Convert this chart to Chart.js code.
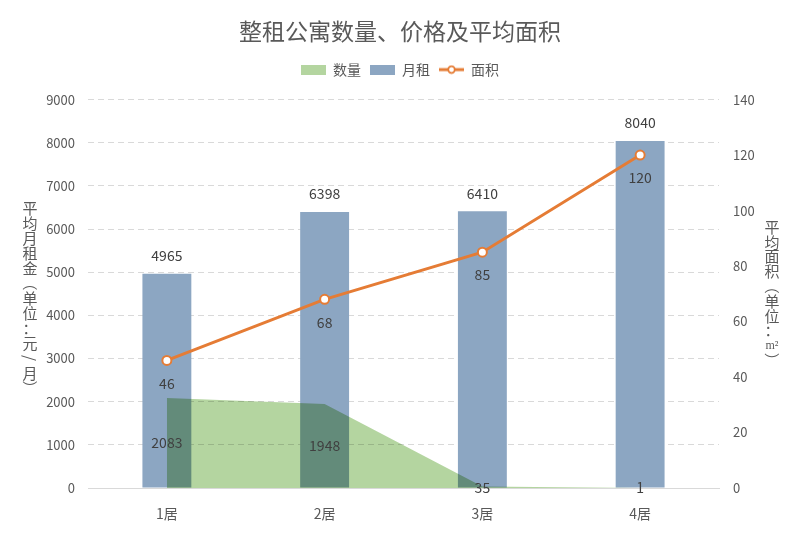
<!DOCTYPE html>
<html>
<head>
<meta charset="utf-8">
<script src="https://cdn.jsdelivr.net/npm/chart.js@4/dist/chart.umd.min.js"></script>
<style>
html,body{margin:0;padding:0;background:#fff;}
#wrap{width:800px;height:533px;position:relative;}
</style>
</head>
<body>
<div id="wrap"><canvas id="c" width="800" height="533"></canvas></div>
<script>
const categories = ['1居', '2居', '3居', '4居'];
const countValues = [2083, 1948, 35, 1];
const rentValues = [4965, 6398, 6410, 8040];
const areaValues = [46, 68, 85, 120];
const leftTicks = [0, 1000, 2000, 3000, 4000, 5000, 6000, 7000, 8000, 9000];
const rightTicks = [0, 20, 40, 60, 80, 100, 120, 140];
const titleText = '整租公寓数量、价格及平均面积';
const leftTitle = ['平','均','月','租','金','（','单','位','：','元','/','月','）'];
const rightTitle = ['平','均','面','积','（','单','位','：','m²','）'];

const FONT = '"Noto Sans CJK SC", "Noto Sans", sans-serif';
Chart.defaults.font.family = FONT;

const C_AREA = '#b4d5a0';
const C_BAR = '#8ca6c2';
const C_LINE = '#e57c35';
const C_TEXT = '#595959';

function boxImg(color) {
  const c = document.createElement('canvas');
  c.width = 25; c.height = 10;
  const x = c.getContext('2d');
  x.fillStyle = color; x.fillRect(0, 0, 25, 10);
  return c;
}
function lineImg(color) {
  const c = document.createElement('canvas');
  c.width = 25; c.height = 10;
  const x = c.getContext('2d');
  x.strokeStyle = color; x.lineWidth = 3;
  x.beginPath(); x.moveTo(0, 5); x.lineTo(25, 5); x.stroke();
  x.fillStyle = '#fff'; x.lineWidth = 1.8;
  x.beginPath(); x.arc(12.5, 5, 3.3, 0, Math.PI * 2); x.fill(); x.stroke();
  return c;
}
const legendImgs = [boxImg(C_AREA), boxImg(C_BAR), lineImg(C_LINE)];

const bgPlugin = {
  id: 'bg',
  beforeDraw(chart) {
    const ctx = chart.ctx;
    ctx.save(); ctx.fillStyle = '#fff';
    ctx.fillRect(0, 0, chart.width, chart.height); ctx.restore();
  }
};

// bars (index 1) are drawn just before the area (index 0); switch to multiply
// after bars so the Filler plugin paints the area in multiply mode.
const multiplyPlugin = {
  id: 'multiply',
  afterDatasetDraw(chart, args) {
    if (args.index === 1) { chart.ctx.save(); chart.ctx.globalCompositeOperation = 'multiply'; }
    if (args.index === 0) { chart.ctx.restore(); }
  }
};

const legendGapPlugin = {
  id: 'legendGap',
  afterInit(chart) {
    const lg = chart.legend;
    if (lg && !lg._gapPatched) {
      const orig = lg.fit;
      lg.fit = function () { orig.call(this); this.height += 13; };
      lg._gapPatched = true;
    }
  }
};

const labelPlugin = {
  id: 'labels',
  afterDatasetsDraw(chart) {
    const ctx = chart.ctx;
    const y = chart.scales.y;
    ctx.save();
    ctx.font = '14px ' + FONT;
    ctx.fillStyle = '#404040';
    ctx.textAlign = 'center';
    ctx.textBaseline = 'middle';
    chart.getDatasetMeta(1).data.forEach((el, i) => {
      ctx.fillText(String(rentValues[i]), el.x, el.y - 18);
    });
    chart.getDatasetMeta(2).data.forEach((el, i) => {
      ctx.fillText(String(areaValues[i]), el.x, el.y + 23);
    });
    chart.getDatasetMeta(0).data.forEach((el, i) => {
      ctx.fillText(String(countValues[i]), el.x, y.getPixelForValue(countValues[i] / 2));
    });
    ctx.restore();
  }
};

function drawVertical(ctx, chars, x, y0, step) {
  chars.forEach((ch, i) => {
    const y = y0 + i * step;
    ctx.save();
    ctx.translate(x, y);
    if (ch === '（' || ch === '）' || ch === '/') ctx.rotate(Math.PI / 2);
    if (ch === 'm²') {
      ctx.font = '12px "Liberation Serif", serif';
    }
    ctx.fillText(ch, 0, 0);
    ctx.restore();
  });
}

const axisTitlePlugin = {
  id: 'axisTitles',
  afterDraw(chart) {
    const ctx = chart.ctx;
    ctx.save();
    ctx.font = '15px ' + FONT;
    ctx.fillStyle = C_TEXT;
    ctx.textAlign = 'center';
    ctx.textBaseline = 'middle';
    drawVertical(ctx, leftTitle, 30, 208, 15);
    drawVertical(ctx, rightTitle, 772, 227, 14.8);
    ctx.restore();
  }
};

new Chart(document.getElementById('c'), {
  type: 'bar',
  data: {
    labels: categories,
    datasets: [
      {
        type: 'line', label: '数量', data: countValues, yAxisID: 'y',
        fill: 'origin', backgroundColor: C_AREA, borderColor: C_AREA, borderWidth: 0,
        pointRadius: 0, tension: 0, order: 1
      },
      {
        type: 'bar', label: '月租', data: rentValues, yAxisID: 'y',
        backgroundColor: C_BAR, barPercentage: 0.31, categoryPercentage: 1, order: 2
      },
      {
        type: 'line', label: '面积', data: areaValues, yAxisID: 'y1',
        borderColor: C_LINE, borderWidth: 3, tension: 0, fill: false,
        pointRadius: 4.5, pointBackgroundColor: '#fff', pointBorderColor: C_LINE,
        pointBorderWidth: 2, order: 0
      }
    ]
  },
  options: {
    responsive: false,
    animation: false,
    devicePixelRatio: 1,
    layout: { padding: { top: 0, bottom: 0, left: 0, right: 0 } },
    plugins: {
      tooltip: { enabled: false },
      title: {
        display: true, text: titleText, color: C_TEXT,
        font: { size: 23, weight: 'normal', family: FONT },
        padding: { top: 17, bottom: 9 }
      },
      legend: {
        display: true,
        labels: {
          color: C_TEXT, font: { size: 14, family: FONT },
          usePointStyle: true, pointStyleWidth: 25, boxHeight: 10, padding: 9,
          generateLabels(chart) {
            return [0, 1, 2].map(i => ({
              text: chart.data.datasets[i].label,
              datasetIndex: i,
              pointStyle: legendImgs[i],
              fillStyle: 'transparent', strokeStyle: 'transparent', lineWidth: 0,
              fontColor: C_TEXT,
              hidden: !chart.isDatasetVisible(i)
            }));
          }
        }
      }
    },
    scales: {
      x: {
        offset: true,
        grid: { display: false },
        border: { display: true, color: '#d9d9d9', width: 1 },
        ticks: { color: C_TEXT, font: { size: 14 }, padding: 9 },
        afterFit(s) { s.height = 45; }
      },
      y: {
        position: 'left', min: 0, max: 9000,
        afterBuildTicks(s) { s.ticks = leftTicks.map(v => ({ value: v })); },
        grid: { color: '#d9d9d9', lineWidth: 1, drawTicks: false },
        border: { display: false, dash: [6, 4] },
        ticks: { color: C_TEXT, font: { size: 13 }, padding: 13, callback: v => String(v) },
        afterFit(s) { s.width = 88; }
      },
      y1: {
        position: 'right', min: 0, max: 140,
        afterBuildTicks(s) { s.ticks = rightTicks.map(v => ({ value: v })); },
        grid: { display: false, drawTicks: false },
        border: { display: false },
        ticks: { color: C_TEXT, font: { size: 13 }, padding: 14, callback: v => String(v) },
        afterFit(s) { s.width = 81; }
      }
    }
  },
  plugins: [bgPlugin, multiplyPlugin, legendGapPlugin, labelPlugin, axisTitlePlugin]
});
</script>
</body>
</html>
